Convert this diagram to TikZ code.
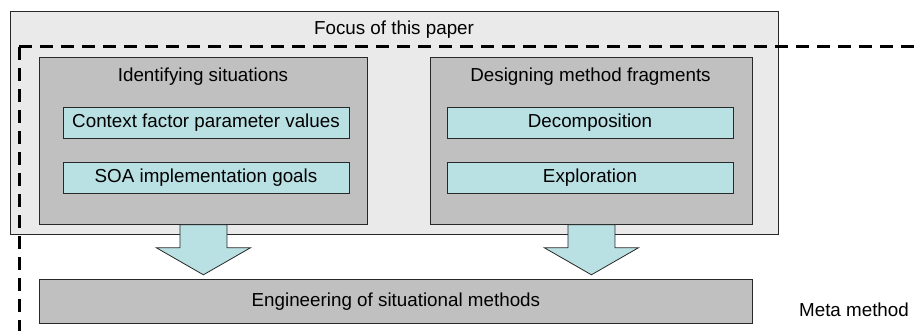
\documentclass[tikz,border=0pt]{standalone}
\usepackage{fontspec}
\setmainfont{Liberation Sans}
\usetikzlibrary{positioning}
\definecolor{focusgray}{RGB}{234,234,234}
\definecolor{boxgray}{RGB}{192,192,192}
\definecolor{partcyan}{RGB}{185,224,227}
\definecolor{edgegray}{RGB}{40,40,40}

\begin{document}
\begin{tikzpicture}[x=1pt,y=-1pt,
  every node/.style={font=\fontsize{18.8}{22}\selectfont},
  area/.style={draw=edgegray,line width=0.8pt,fill=boxgray,inner sep=0pt,anchor=north west},
  part/.style={draw=edgegray,line width=0.8pt,fill=partcyan,inner sep=0pt,minimum width=286pt,minimum height=31pt},
  fatarrow/.style={draw=edgegray,line width=0.8pt,fill=partcyan},
  metaline/.style={line width=3pt,dash pattern=on 13pt off 8pt}]
\useasboundingbox (0,0) rectangle (914,331);

% focus of the paper
\node[draw=edgegray,line width=0.8pt,fill=focusgray,inner sep=0pt,anchor=north west,
  minimum width=768pt,minimum height=223pt] (focus) at (10,11) {};
\node (focustitle) at (394,30) {Focus of this paper};

% meta method border
\coordinate (metacorner) at (19,47);
\draw[metaline] (metacorner) -- (914,47);
\draw[metaline] (metacorner) -- (19,331);

% situations
\node[area,minimum width=328pt,minimum height=167pt] (idbox) at (39,57) {};
\node (idtitle) at (203,77) {Identifying situations};
\node[part] (context) at (206,122.5) {Context factor parameter values};
\node[part] (goals) at (206,178) {SOA implementation goals};

% method fragments
\node[area,minimum width=322pt,minimum height=167pt] (fragbox) at (430,57) {};
\node (fragtitle) at (590.5,77) {Designing method fragments};
\node[part] (decomp) at (590,122.5) {Decomposition};
\node[part] (explor) at (590,178) {Exploration};

% engineering
\node[area,minimum width=713pt,minimum height=44pt] (engbox) at (39,279) {};
\node (engtitle) at (engbox.center) {Engineering of situational methods};
\node (metalabel) at (854,310) {Meta method};

% block arrows
\draw[fatarrow] ([xshift=-23.5pt]idbox.south) -- ++(0,23) -- ++(-23.5,0) -- ++(47,27)
  -- ++(47,-27) -- ++(-23.5,0) -- ++(0,-23) -- cycle;
\draw[fatarrow] ([xshift=-23.5pt]fragbox.south) -- ++(0,23) -- ++(-23.5,0) -- ++(47,27)
  -- ++(47,-27) -- ++(-23.5,0) -- ++(0,-23) -- cycle;
\end{tikzpicture}
\end{document}
